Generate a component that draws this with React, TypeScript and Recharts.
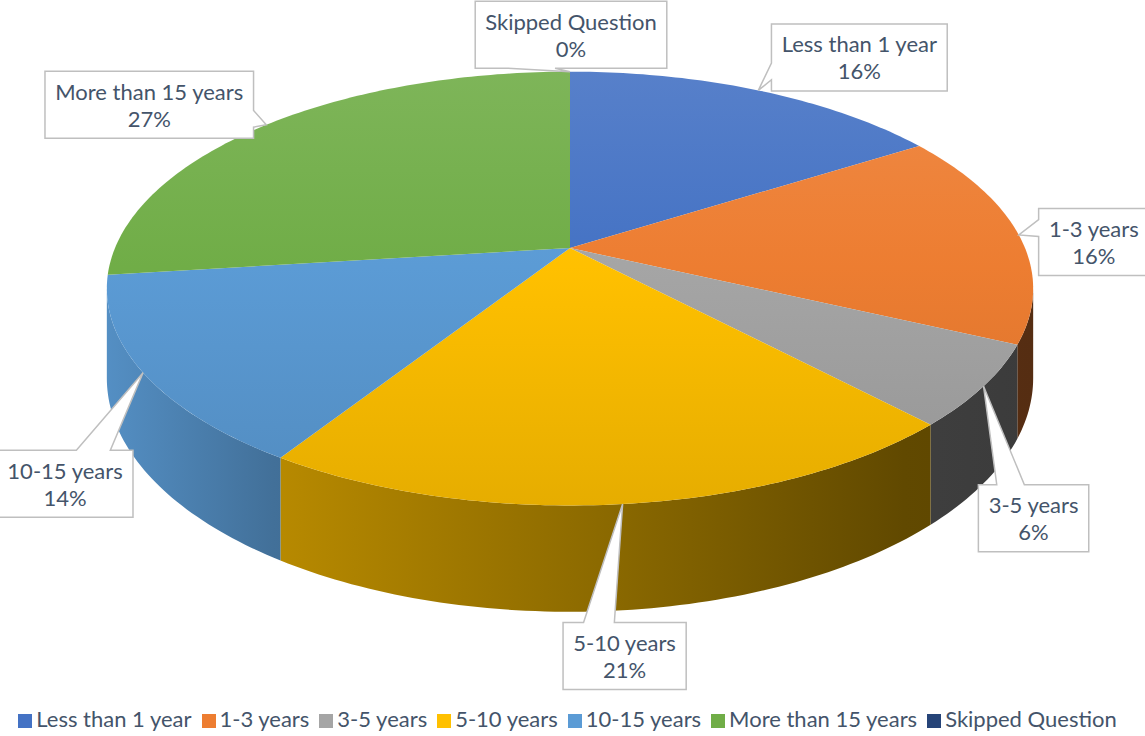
import { PieChart, Pie, Cell, Legend } from 'recharts'

const categories = ['Less than 1 year', '1-3 years', '3-5 years', '5-10 years', '10-15 years', 'More than 15 years', 'Skipped Question']
const shares = [16, 16, 6, 21, 14, 27, 0]
const colors = ['#4472C4', '#ED7D31', '#A5A5A5', '#FFC000', '#5B9BD5', '#70AD47', '#264478']

const data = categories.map((name, i) => ({ name, value: shares[i] }))

// where each callout box sits, relative to the rim point in the middle of its slice
const calloutOffsets = [[101, -33], [75, 7], [50, 132], [2, 152], [-78, 111], [-117, -20], [1, -37]]

// fake 3d: tilt of the disc, perspective strength, thickness (all relative to radius)
const TILT = 0.46
const PERSP = 0.187
const DEPTH = 0.19
const FONT = 'Lato, "Liberation Sans", sans-serif'
const FONT_SIZE = 22
const TEXT = '#44546A'

const rad = (d: number) => (d * Math.PI) / 180
const EDGE = (Math.asin(PERSP) * 180) / Math.PI

// theta in degrees, clockwise from 12 o'clock
const project = (cx: number, cy: number, r: number, theta: number) => {
    const s = Math.sin(rad(theta))
    const c = Math.cos(rad(theta))
    const den = 1 + PERSP * c
    return { x: cx + (r * s) / den, y: cy - (r * TILT * c) / den, den }
}

const rgb = (hex: string) => {
    const n = parseInt(hex.slice(1), 16)
    return [n >> 16, (n >> 8) & 255, n & 255]
}
const shade = (hex: string, f: number) => `rgb(${rgb(hex).map(v => Math.round(Math.min(255, v * f))).join(',')})`
const tint = (hex: string, f: number) => `rgb(${rgb(hex).map(v => Math.round(v + (255 - v) * f)).join(',')})`

const sideStops = [[0, 0.92], [0.18, 0.72], [0.53, 0.55], [0.86, 0.38], [1, 0.36]]

let ctx: CanvasRenderingContext2D | null = null
const measure = (text: string) => {
    if (!ctx) ctx = document.createElement('canvas').getContext('2d')
    if (!ctx) return text.length * FONT_SIZE * 0.5
    ctx.font = `${FONT_SIZE}px ${FONT}`
    return ctx.measureText(text).width
}

const Slice3D = (props: any) => {
    const { cx, cy, outerRadius: r, startAngle, endAngle, index } = props
    const color = colors[index]
    const t0 = 90 - startAngle
    const t1 = 90 - endAngle
    if (t1 - t0 < 0.05) return <g />
    const arc = (a: number, b: number) => {
        const n = Math.max(2, Math.ceil(b - a))
        return Array.from({ length: n + 1 }, (_, i) => project(cx, cy, r, a + ((b - a) * i) / n))
    }
    const top = arc(t0, t1)
    const topPath = `M${cx},${cy}` + top.map(p => `L${p.x},${p.y}`).join('') + 'Z'

    // only the front part of the rim shows a wall
    const lo = Math.max(t0, 90 + EDGE)
    const hi = Math.min(t1, 270 - EDGE)
    let sidePath = ''
    if (hi > lo) {
        const rim = arc(lo, hi)
        const h = r * DEPTH
        sidePath = 'M' + rim.map(p => `${p.x},${p.y}`).join('L') +
            rim.slice().reverse().map(p => `L${p.x},${p.y + h / p.den}`).join('') + 'Z'
    }
    const yTop = cy - (r * TILT) / (1 + PERSP)
    const yBot = cy + (r * TILT) / (1 - PERSP)
    return (
        <g>
            <defs>
                <linearGradient id={`top${index}`} gradientUnits="userSpaceOnUse" x1={0} y1={yTop} x2={0} y2={yBot}>
                    <stop offset="0" stopColor={tint(color, 0.1)} />
                    <stop offset="0.45" stopColor={color} />
                    <stop offset="1" stopColor={shade(color, 0.9)} />
                </linearGradient>
                <linearGradient id={`side${index}`} gradientUnits="userSpaceOnUse" x1={cx - r * 1.02} y1={0} x2={cx + r * 1.02} y2={0}>
                    {sideStops.map(([o, f]) => <stop key={o} offset={o} stopColor={shade(color, f)} />)}
                </linearGradient>
            </defs>
            {sidePath && <path d={sidePath} fill={`url(#side${index})`} />}
            <path d={topPath} fill={`url(#top${index})`} />
        </g>
    )
}

const Callout = (props: any) => {
    const { cx, cy, outerRadius: r, midAngle, index, percent } = props
    const a = project(cx, cy, r, 90 - midAngle)
    const [ox, oy] = calloutOffsets[index]
    const bx = a.x + ox
    const by = a.y + oy
    const lines = [categories[index], `${Math.round((percent ?? 0) * 100)}%`]
    const w = Math.max(...lines.map(measure)) + 20
    const h = 67
    const l = bx - w / 2, t = by - h / 2, rr = bx + w / 2, b = by + h / 2
    const dx = a.x - bx
    const dy = a.y - by
    const dz = Math.abs(dy) - Math.abs((dx * h) / w)
    let d = ''
    // same wedge rule as an office "wedgeRectCallout"
    if (dz > 0) {
        const g1 = l + ((dx > 0 ? 7 : 2) * w) / 12
        const g2 = l + ((dx > 0 ? 10 : 5) * w) / 12
        d = dy < 0
            ? `M${l},${t}L${g1},${t}L${a.x},${a.y}L${g2},${t}L${rr},${t}L${rr},${b}L${l},${b}Z`
            : `M${l},${t}L${rr},${t}L${rr},${b}L${g2},${b}L${a.x},${a.y}L${g1},${b}L${l},${b}Z`
    } else {
        const g1 = t + ((dy > 0 ? 7 : 2) * h) / 12
        const g2 = t + ((dy > 0 ? 10 : 5) * h) / 12
        d = dx < 0
            ? `M${l},${t}L${rr},${t}L${rr},${b}L${l},${b}L${l},${g2}L${a.x},${a.y}L${l},${g1}Z`
            : `M${l},${t}L${rr},${t}L${rr},${g1}L${a.x},${a.y}L${rr},${g2}L${rr},${b}L${l},${b}Z`
    }
    return (
        <g>
            <path d={d} fill="#fff" stroke="#BFBFBF" strokeWidth={1.5} />
            {lines.map((txt, i) => (
                <text key={i} x={bx} y={by + (i === 0 ? -13.5 : 13.5)} textAnchor="middle" dominantBaseline="central"
                    fill={TEXT} fontFamily={FONT} fontSize={FONT_SIZE}>
                    {txt}
                </text>
            ))}
        </g>
    )
}

const App = () => (
    <div style={{ position: 'absolute', left: 0, top: 0, width: 1145, height: 736, background: '#fff' }}>
        <PieChart width={1145} height={736} margin={{ top: 0, right: 0, bottom: 0, left: 0 }}>
            <Pie
                data={data}
                dataKey="value"
                nameKey="name"
                cx={570}
                cy={248}
                outerRadius={455}
                startAngle={90}
                endAngle={-270}
                shape={Slice3D}
                label={(p: any) => <Callout {...p} />}
                labelLine={false}
                isAnimationActive={false}
            >
                {data.map((d, i) => <Cell key={d.name} fill={colors[i]} />)}
            </Pie>
            <Legend
                verticalAlign="bottom"
                iconType="square"
                iconSize={14}
                itemSorter={(item: any) => categories.indexOf(item.value)}
                wrapperStyle={{ bottom: 4, fontFamily: FONT, fontSize: FONT_SIZE }}
                formatter={(value: string) => <span style={{ color: TEXT }}>{value}</span>}
            />
        </PieChart>
    </div>
)

export default App
